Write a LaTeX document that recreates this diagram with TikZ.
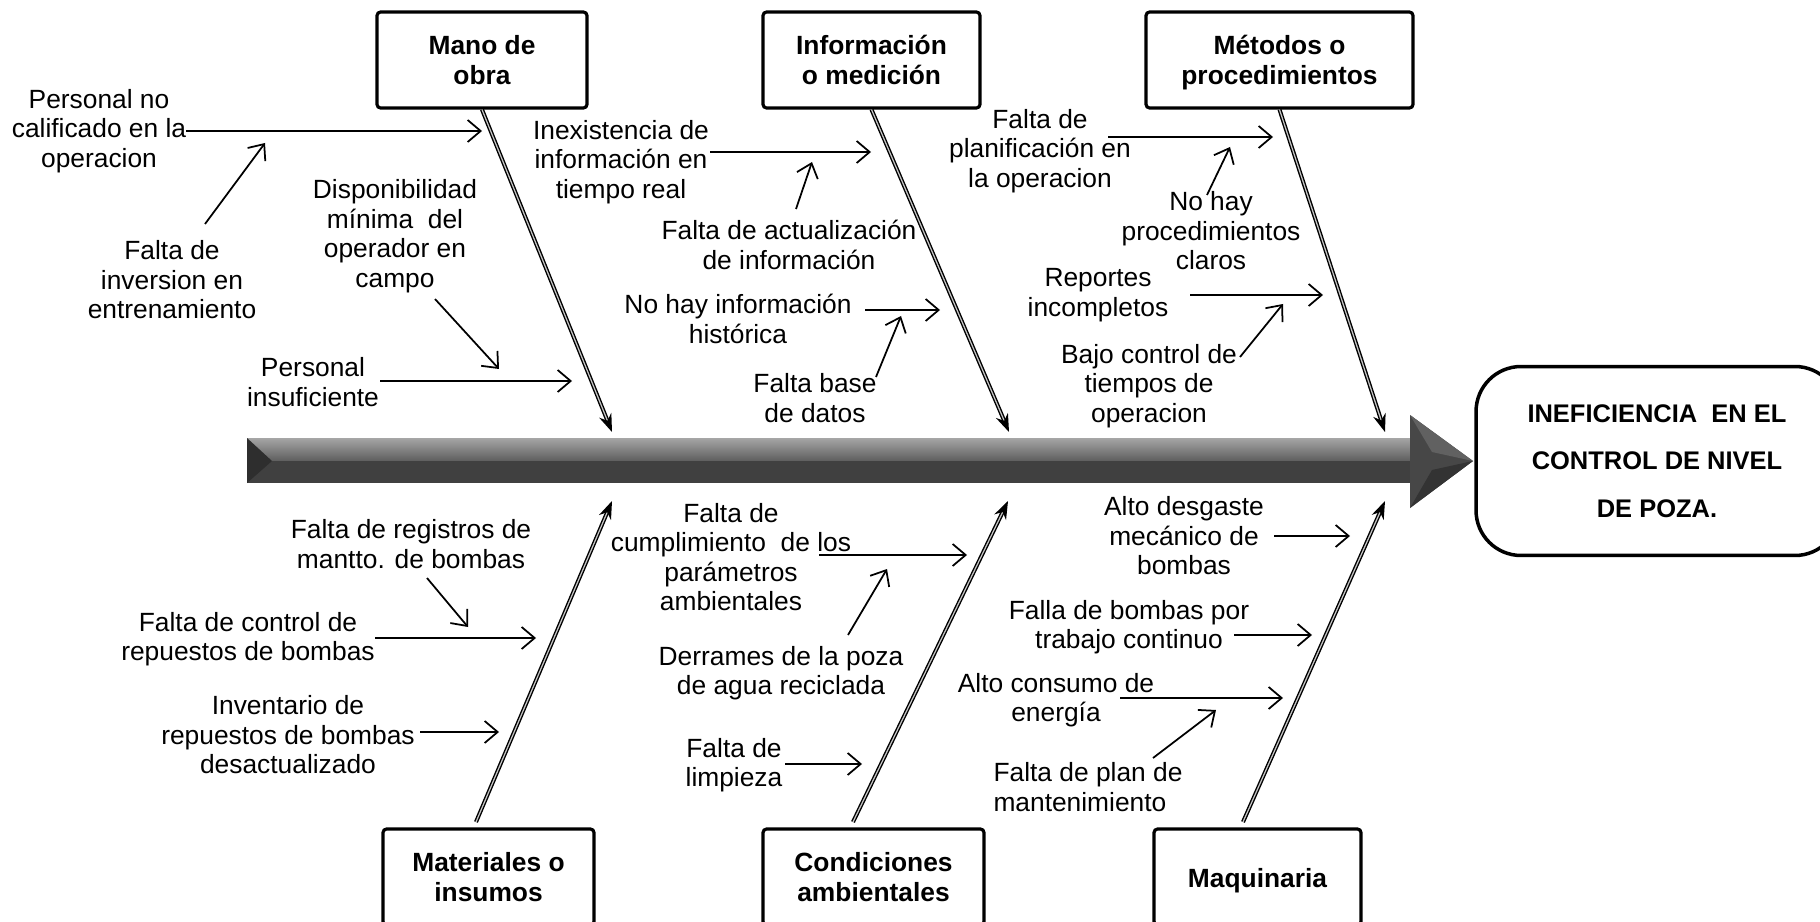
\documentclass[tikz,border=0pt]{standalone}
\usepackage{fontspec}
\setmainfont{Liberation Sans}
\usepackage{tikz}
\usetikzlibrary{arrows.meta,shapes,calc,positioning}
\tikzstyle{causa}=[align=center, inner sep=0pt,
                   font=\fontsize{15}{16.8}\selectfont]
\tikzstyle{categoria}=[draw, line width=1.8pt, rounded corners=2pt,
                   minimum height=1.92cm, inner sep=0pt]
\tikzstyle{cattexto}=[align=center, inner sep=0pt, yshift=-0.09cm,
                   execute at begin node=\strut, execute at end node=\strut,
                   font=\fontsize{15}{17}\selectfont\bfseries]
\tikzstyle{flecha}=[line width=1pt,
                   -{Straight Barb[length=2.6mm,width=4.4mm]}]
\tikzstyle{espina}=[draw=black, double=gray!45, double distance=0.7pt,
                   line width=0.8pt, -{Stealth[length=3.6mm,width=2.6mm]}]

\begin{document}
\begin{tikzpicture}[x=0.02cm, y=-0.02cm]
    \useasboundingbox (0,0) rectangle (1820,922);

    % espina central
    \fill[black!75] (247,438) rectangle (1410,483);
    \shade[top color=black!35, bottom color=black!62] (247,438) rectangle (1410,460);
    \fill[black!82] (247,438) -- (272,461) -- (247,483) -- cycle;
    \fill[black!72] (1410,415) -- (1473,461) -- (1410,508) -- cycle;
    \fill[black!62] (1410,415) -- (1473,461) -- (1432,452) -- cycle;
    \fill[black!80] (1410,508) -- (1473,461) -- (1432,470) -- cycle;

    % efecto
    \node (efecto) [draw, line width=2pt, rounded corners=0.9cm,
        minimum width=7.28cm, minimum height=3.78cm] at (1658,461) {};
    \node (efectotxt) [align=center, font=\fontsize{14.5}{27}\selectfont\bfseries]
        at (1657,461) {INEFICIENCIA~ EN EL\\CONTROL DE NIVEL\\DE POZA.};

    % categorias
    \node (mano) [categoria, minimum width=4.2cm] at (482,60) {};
    \node (info) [categoria, minimum width=4.34cm] at (871.5,60) {};
    \node (metodos) [categoria, minimum width=5.34cm] at (1279.5,60) {};
    \node (materiales) [categoria, minimum width=4.22cm] at (488.5,877) {};
    \node (condiciones) [categoria, minimum width=4.42cm] at (873.5,877) {};
    \node (maquinaria) [categoria, minimum width=4.14cm] at (1257.5,877) {};

    \node (manotxt) [cattexto] at (mano) {Mano de\\obra};
    \node (infotxt) [cattexto] at (info) {Información\\o medición};
    \node (metodostxt) [cattexto] at (metodos) {Métodos o\\procedimientos};
    \node (materialestxt) [cattexto] at (materiales) {Materiales o\\insumos};
    \node (condicionestxt) [cattexto] at (condiciones) {Condiciones\\ambientales};
    \node (maquinariatxt) [cattexto] at (maquinaria) {Maquinaria};

    \coordinate (e1) at (612,432);
    \coordinate (e2) at (1009,432);
    \coordinate (e3) at (1385,432);
    \coordinate (e4) at (612,501);
    \coordinate (e5) at (1008,501);
    \coordinate (e6) at (1385,501);
    \coordinate (m4) at (476,822);
    \coordinate (m5) at (853,822);
    \coordinate (m6) at (1243,822);

    \foreach \i/\j in {mano.south/e1,info.south/e2,metodos.south/e3,m4/e4,m5/e5,m6/e6}
        \draw [espina] (\i) -- (\j);

    % causas
    \node (c1) [causa] at (99,131) {Personal no\\calificado en la\\operacion};
    \node (c2) [causa] at (172,280) {Falta de\\inversion en\\entrenamiento};
    \node (c3) [causa] at (395,236) {Disponibilidad\\mínima~ del\\operador en\\campo};
    \node (c4) [causa] at (313,382) {Personal\\insuficiente};
    \node (c5) [causa] at (621,162) {Inexistencia de\\información en\\tiempo real};
    \node (c6) [causa] at (789,245) {Falta de actualización\\de información};
    \node (c7) [causa] at (738,319) {No hay información\\histórica};
    \node (c8) [causa] at (815,398) {Falta base\\de datos};
    \node (c9) [causa] at (1040,151) {Falta de\\planificación en\\la operacion};
    \node (c10) [causa] at (1211,231) {No hay\\procedimientos\\claros};
    \node (c11) [causa] at (1098,295) {Reportes\\incompletos};
    \node (c12) [causa] at (1149,386) {Bajo control de\\tiempos de\\operacion};
    \node (c13) [causa] at (411,544) {Falta de registros de\\mantto. de bombas};
    \node (c14) [causa] at (248,639) {Falta de control de\\repuestos de bombas};
    \node (c15) [causa] at (288,735) {Inventario de\\repuestos de bombas\\desactualizado};
    \node (c16) [causa] at (731,557) {Falta de\\cumplimiento~ de los\\parámetros\\ambientales};
    \node (c17) [causa] at (781,673) {Derrames de la poza\\de agua reciclada};
    \node (c18) [causa] at (734,765) {Falta de\\limpieza};
    \node (c19) [causa] at (1184,536) {Alto desgaste\\mecánico de\\bombas};
    \node (c20) [causa] at (1129,627) {Falla de bombas por\\trabajo continuo};
    \node (c21) [causa] at (1056,700) {Alto consumo de\\energía};
    \node (c22) [causa, align=left] at (1088,787) {Falta de plan de\\mantenimiento};

    % extremos de las flechas
    \foreach \i/\x/\y/\u/\v in {1/186/131/482/131, 2/205/224/265/143, 3/435/299/499/369,
        4/380/381/572/381, 5/710/152/871/152, 6/796/209/812/162, 7/865/310/940/310,
        8/876/377/901/316, 9/1108/137/1273/137, 10/1207/195/1230/147,
        11/1190/295/1323/295, 12/1240/357/1283/304, 13/427/578/468/627,
        14/375/638/536/638, 15/420/732/499/732, 16/819/555/967/555,
        17/848/635/887/569, 18/785/764/862/764, 19/1274/536/1350/536,
        20/1234/635/1312/635, 21/1120/698/1283/698, 22/1153/758/1216/710}
    {
        \coordinate (s\i) at (\x,\y);
        \coordinate (t\i) at (\u,\v);
    }

    \foreach \i in {1,...,22}
        \draw [flecha] (s\i) -- (t\i);

\end{tikzpicture}
\end{document}
